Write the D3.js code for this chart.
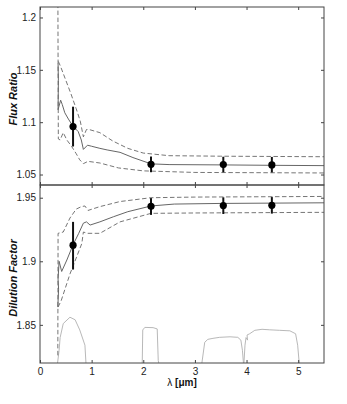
<!DOCTYPE html>
<head>
  <meta charset="utf-8">
  <script src="https://d3js.org/d3.v7.min.js"></script>
  <style>
    body { margin:0; background:#fff; }
    text { font-family: "Liberation Sans", Arial, sans-serif; }
  </style>
</head>
<body>
<script>
// ---- data (wavelength in micron) ----
var obsX = [0.64, 2.15, 3.55, 4.49];
var fluxVal = [1.0958, 1.0597, 1.0595, 1.0592];
var fluxLo  = [1.0768, 1.0522, 1.0522, 1.0520];
var fluxHi  = [1.1148, 1.0672, 1.0670, 1.0668];
var dilVal = [1.9127, 1.9432, 1.9438, 1.9440];
var dilLo  = [1.8935, 1.9365, 1.9372, 1.9375];
var dilHi  = [1.9310, 1.9497, 1.9503, 1.9505];

var fluxModel = [[0.35,1.156],[0.356,1.14],[0.35,1.112],[0.4,1.121],[0.43,1.117],[0.48,1.109],[0.55,1.103],[0.64,1.096],[0.74,1.091],[0.8,1.083],[0.84,1.074],[0.92,1.078],[1.0,1.077],[1.16,1.075],[1.3,1.0735],[1.55,1.0712],[1.8,1.0662],[2.15,1.0602],[2.5,1.0595],[3.5,1.0592],[4.5,1.0588],[5.5,1.0585]];
var fluxUpper = [[0.355,1.158],[0.4,1.153],[0.5,1.140],[0.6,1.127],[0.7,1.113],[0.78,1.101],[0.84,1.086],[0.9,1.093],[0.95,1.093],[1.16,1.090],[1.41,1.082],[1.7,1.075],[2.0,1.0705],[2.5,1.068],[3.5,1.0675],[5.5,1.067]];
var fluxLower = [[0.345,1.24],[0.355,1.084],[0.39,1.083],[0.45,1.090],[0.52,1.083],[0.61,1.077],[0.7,1.070],[0.77,1.064],[0.84,1.0604],[0.93,1.0626],[1.16,1.061],[1.52,1.0563],[2.0,1.0535],[3.0,1.052],[5.5,1.0515]];

var dilModel = [[0.345,1.864],[0.36,1.878],[0.35,1.886],[0.37,1.900],[0.42,1.892],[0.52,1.901],[0.64,1.913],[0.75,1.922],[0.84,1.930],[0.9,1.931],[0.97,1.9285],[1.16,1.931],[1.42,1.935],[1.7,1.939],[2.15,1.9435],[2.6,1.945],[3.5,1.9455],[5.5,1.946]];
var dilUpper = [[0.345,1.826],[0.35,1.922],[0.45,1.923],[0.58,1.934],[0.7,1.941],[0.8,1.943],[0.87,1.9435],[0.93,1.940],[1.16,1.943],[1.55,1.947],[2.15,1.950],[3.0,1.9505],[5.5,1.951]];
var dilLower = [[0.35,1.864],[0.41,1.869],[0.58,1.890],[0.71,1.9035],[0.81,1.914],[0.84,1.923],[0.92,1.922],[1.16,1.922],[1.55,1.931],[2.15,1.9377],[3.0,1.938],[5.5,1.9385]];

// filter transmission curves, drawn in the lower panel's units
var filterR = [[0.34,1.82],[0.37,1.83],[0.39,1.84],[0.45,1.851],[0.58,1.856],[0.68,1.854],[0.77,1.846],[0.87,1.834],[0.89,1.82]];
var filterK = [[1.98,1.82],[1.99,1.846],[2.03,1.848],[2.19,1.8478],[2.27,1.8468],[2.29,1.822],[2.30,1.82]];
var filterI1 = [[3.135,1.82],[3.19,1.8363],[3.25,1.8386],[3.35,1.8394],[3.48,1.8402],[3.68,1.8406],[3.83,1.8402],[3.89,1.838],[3.92,1.830],[3.94,1.82]];
var filterI2 = [[3.95,1.82],[3.97,1.834],[3.99,1.840],[4.02,1.838],[4.01,1.842],[4.06,1.843],[4.16,1.8457],[4.30,1.8465],[4.45,1.8461],[4.64,1.8457],[4.84,1.8453],[4.95,1.843],[4.99,1.834],[5.02,1.82]];

var xTicks = [0, 1, 2, 3, 4, 5];
var fluxTicks = [1.05, 1.1, 1.15, 1.2];
var dilTicks = [1.85, 1.9, 1.95];

// ---- layout ----
var width = 347, height = 404;
var pLeft = 40, pRight = 324, pTop = 7, pMid = 185, pBottom = 363;
var axisCol = "#444";

var svg = d3.select("body").append("svg")
    .attr("width", width)
    .attr("height", height);

var x = d3.scaleLinear().domain([0, 5.5]).range([pLeft, pRight]);
var yF = d3.scaleLinear().domain([1.04, 1.21]).range([pMid, pTop]);
var yD = d3.scaleLinear().domain([1.82, 1.96]).range([pBottom, pMid]);

var line = function(ys) {
  return d3.line().x(function(d) { return x(d[0]); }).y(function(d) { return ys(d[1]); });
};

function panel(id, ys, y0, y1, ticks, model, upper, lower, val, lo, hi, filters, showX) {
  svg.append("clipPath").attr("id", id)
    .append("rect").attr("x", pLeft).attr("y", y0).attr("width", pRight - pLeft).attr("height", y1 - y0);
  var g = svg.append("g").attr("clip-path", "url(#" + id + ")");

  filters.forEach(function(f) {
    g.append("path").attr("d", line(ys)(f))
      .attr("fill", "none").attr("stroke", "#b0b0b0").attr("stroke-width", 0.9);
  });
  [upper, lower].forEach(function(c) {
    g.append("path").attr("d", line(ys)(c))
      .attr("fill", "none").attr("stroke", "#666").attr("stroke-width", 0.9)
      .attr("stroke-dasharray", "4.5,2.5");
  });
  g.append("path").attr("d", line(ys)(model))
    .attr("fill", "none").attr("stroke", "#666").attr("stroke-width", 1);

  obsX.forEach(function(xv, i) {
    g.append("line")
      .attr("x1", x(xv)).attr("x2", x(xv))
      .attr("y1", ys(lo[i])).attr("y2", ys(hi[i]))
      .attr("stroke", "#111").attr("stroke-width", 2);
    g.append("circle")
      .attr("cx", x(xv)).attr("cy", ys(val[i])).attr("r", 3.6)
      .attr("fill", "#000");
  });

  // axes, ticks pointing inward
  svg.append("g").attr("transform", "translate(" + pLeft + ",0)")
    .call(d3.axisLeft(ys).tickValues(ticks).tickSize(-3).tickPadding(4).tickFormat(d3.format("")));
  svg.append("g").attr("transform", "translate(" + pRight + ",0)")
    .call(d3.axisRight(ys).tickValues(ticks).tickSize(-3).tickFormat(""));
  svg.append("g").attr("transform", "translate(0," + y0 + ")")
    .call(d3.axisTop(x).tickValues(xTicks).tickSize(-3).tickFormat(""));
  svg.append("g").attr("transform", "translate(0," + y1 + ")")
    .call(d3.axisBottom(x).tickValues(xTicks).tickSize(-3).tickPadding(5)
      .tickFormat(showX ? d3.format("d") : ""));

  svg.selectAll(".domain").remove();
  svg.selectAll(".tick line").attr("stroke", axisCol);
  svg.selectAll(".tick text").attr("font-size", 10).attr("fill", "#222")
    .attr("font-family", "'Liberation Sans', Arial, sans-serif");

  svg.append("rect")
    .attr("x", pLeft).attr("y", y0).attr("width", pRight - pLeft).attr("height", y1 - y0)
    .attr("fill", "none").attr("stroke", axisCol).attr("stroke-width", 1);
}

panel("clipF", yF, pTop, pMid, fluxTicks, fluxModel, fluxUpper, fluxLower,
      fluxVal, fluxLo, fluxHi, [], false);
panel("clipD", yD, pMid, pBottom, dilTicks, dilModel, dilUpper, dilLower,
      dilVal, dilLo, dilHi, [filterR, filterK, filterI1, filterI2], true);

// axis titles
svg.append("text")
  .attr("transform", "translate(17," + ((pTop + pMid) / 2 + 3) + ") rotate(-90)")
  .attr("text-anchor", "middle")
  .attr("font-size", 11).attr("font-weight", "bold").attr("font-style", "italic")
  .attr("fill", "#111")
  .text("Flux Ratio");
svg.append("text")
  .attr("transform", "translate(17," + ((pMid + pBottom) / 2 + 4) + ") rotate(-90)")
  .attr("text-anchor", "middle")
  .attr("font-size", 11).attr("font-weight", "bold").attr("font-style", "italic")
  .attr("fill", "#111")
  .text("Dilution Factor");

var xl = svg.append("text")
  .attr("x", 182).attr("y", 386)
  .attr("text-anchor", "middle")
  .attr("font-size", 10).attr("fill", "#111");
xl.append("tspan").text("λ ");
xl.append("tspan").attr("font-weight", "bold").text("[μm]");
</script>
</body>
